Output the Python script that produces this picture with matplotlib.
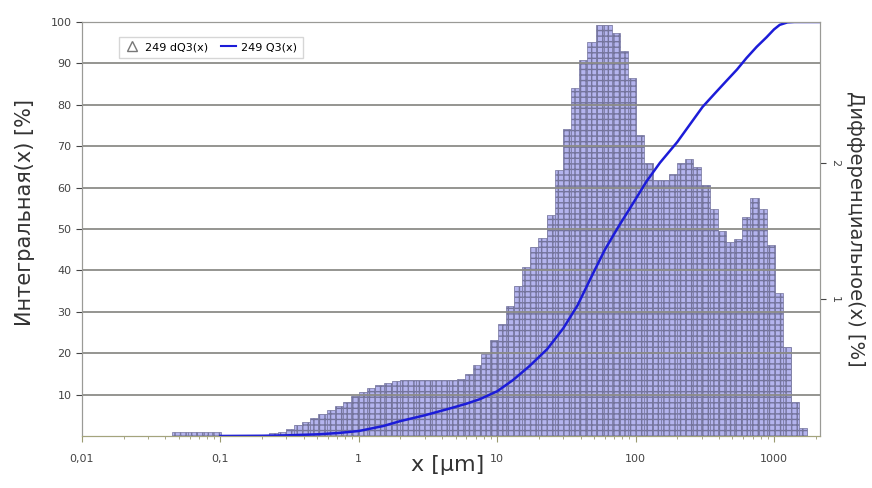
import numpy as np
import matplotlib
matplotlib.use("Agg")
import matplotlib.pyplot as plt
from matplotlib.lines import Line2D
from matplotlib.ticker import FixedLocator, FixedFormatter, LogLocator, NullFormatter

# channel grid of the analyser (0.01 .. 3000 um, 93 channels)
x_min, x_max, n_chan = 0.01, 3000.0, 93

# dQ3(x) per channel [%], channels 0..92
dq3 = [
    0, 0, 0, 0, 0, 0, 0, 0, 0, 0,
    0, 0.03, 0.03, 0.03, 0.03, 0.03, 0.03, 0.005, 0.005, 0.005,
    0.005, 0.01, 0.01, 0.02, 0.03, 0.05, 0.08, 0.10, 0.13, 0.16,
    0.19, 0.22, 0.25, 0.29, 0.32, 0.35, 0.37, 0.39, 0.40, 0.41,
    0.41, 0.41, 0.41, 0.41, 0.41, 0.41, 0.42, 0.45, 0.52, 0.60,
    0.70, 0.82, 0.95, 1.10, 1.24, 1.38, 1.45, 1.62, 1.95, 2.25,
    2.55, 2.75, 2.88, 3.01, 3.01, 2.95, 2.82, 2.62, 2.20, 2.00,
    1.87, 1.87, 1.92, 2.00, 2.03, 1.97, 1.84, 1.66, 1.50, 1.42,
    1.44, 1.60, 1.74, 1.66, 1.40, 1.05, 0.65, 0.25, 0.06, 0,
    0, 0, 0,
]

# Q3(x) cumulative curve [%]
q3_x = [0.1, 0.2, 0.3, 0.5, 0.7, 1.0, 1.5, 2.0, 3.0, 4.5, 6.0, 7.5, 10,
        13, 17, 23, 30, 38, 48, 60, 75, 95, 120, 150, 200, 250, 305, 380,
        454, 540, 633, 750, 883, 1000, 1100, 1250, 1400, 2200]
q3_y = [0, 0.05, 0.15, 0.4, 0.7, 1.2, 2.4, 3.6, 5.0, 6.6, 7.8, 8.9, 10.8,
        13.5, 16.8, 21, 26, 31.5, 38.5, 45, 50.5, 56, 61.5, 66, 71, 75.5,
        79.5, 83, 85.8, 88.5, 91.3, 94, 96.3, 98.2, 99.3, 99.9, 100, 100]

x_ticks = [0.01, 0.1, 1, 10, 100, 1000]
x_ticklabels = ["0,01", "0,1", "1", "10", "100", "1000"]
left_ticks = [10, 20, 30, 40, 50, 60, 70, 80, 90, 100]
right_ticks = [1, 2]

edges = np.logspace(np.log10(x_min), np.log10(x_max), n_chan + 1)

fig = plt.figure(figsize=(8.72, 4.88), dpi=100)
ax = fig.add_axes([0.094, 0.1066, 0.846, 0.8484])
ax2 = ax.twinx()
ax.set_zorder(ax2.get_zorder() + 1)
ax.patch.set_visible(False)
ax2.patch.set_facecolor("#eeeee6")

ax2.set_xscale("log")
ax2.xaxis.set_minor_locator(LogLocator(base=10, subs=np.arange(2, 10)))
ax2.xaxis.grid(True, which="both", color="#deded4", linewidth=0.6,
               linestyle=":")
ax2.set_axisbelow(True)
ax2.bar(edges[:-1], dq3, width=np.diff(edges), align="edge",
        facecolor="#b4b4ee", edgecolor="#74749c", linewidth=0.5, hatch="+++")
ax2.set_ylim(0, 3.03)

ax.plot(q3_x, q3_y, color="#1c1cd8", linewidth=1.8)
ax.set_xscale("log")
ax.set_xlim(0.01, 10 ** 3.33)
ax.set_ylim(0, 100)

ax.yaxis.set_major_locator(FixedLocator(left_ticks))
ax.yaxis.grid(True, color="#8c8c88", linewidth=1.3)
ax.xaxis.set_major_locator(FixedLocator(x_ticks))
ax.xaxis.set_major_formatter(FixedFormatter(x_ticklabels))
ax.xaxis.set_minor_locator(LogLocator(base=10, subs=np.arange(2, 10)))
ax.xaxis.set_minor_formatter(NullFormatter())

ax2.yaxis.set_major_locator(FixedLocator(right_ticks))
ax2.set_yticklabels([str(t) for t in right_ticks], rotation=-90, va="center")

for a in (ax, ax2):
    for s in a.spines.values():
        s.set_color("#9a9a96")
    a.tick_params(colors="#444444", labelsize=8, length=4, width=0.8)
ax.spines["bottom"].set_color("#a4a47c")
ax.tick_params(axis="x", which="minor", length=2.5, color="#9a9a70")
ax.tick_params(axis="x", which="major", color="#9a9a70", pad=9)

ax.set_xlabel("x [µm]", fontsize=16, color="#333333")
ax.xaxis.set_label_coords(0.495, -0.045)
ax.set_ylabel("Интегральная(x) [%]", fontsize=15, color="#333333")
ax.yaxis.set_label_coords(-0.063, 0.54)
ax2.set_ylabel("Дифференциальное(x) [%]", fontsize=14, color="#333333",
               rotation=-90, labelpad=18)

handles = [
    Line2D([], [], marker="^", linestyle="none", markerfacecolor="none",
           markeredgecolor="#777777", markersize=7),
    Line2D([], [], color="#1c1cd8", linewidth=1.5),
]
leg = ax.legend(handles, ["249 dQ3(x)", "249 Q3(x)"], loc="upper left",
                bbox_to_anchor=(0.043, 0.978), ncol=2, fontsize=8,
                frameon=True, fancybox=False, handlelength=1.3,
                handletextpad=0.5, columnspacing=1.2, borderpad=0.5)
leg.get_frame().set_edgecolor("#cccccc")
leg.get_frame().set_facecolor("white")

fig.savefig("out.png", dpi=100)
